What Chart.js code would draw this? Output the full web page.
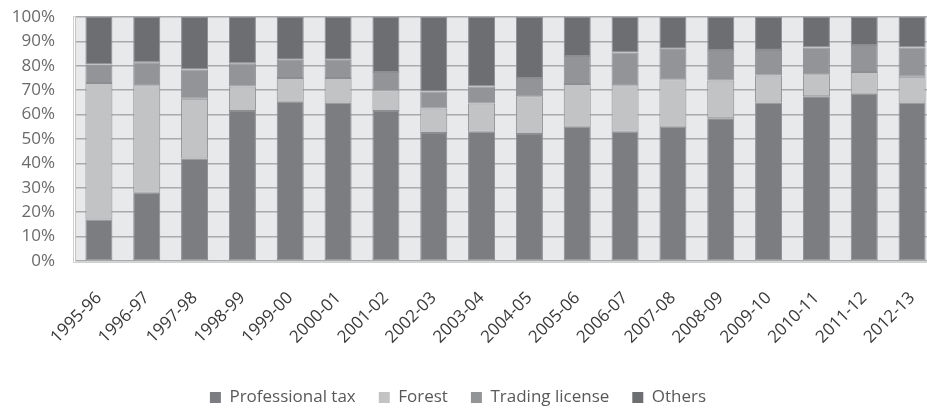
<!DOCTYPE html>
<html>
<head>
<meta charset="utf-8">
<style>
  html, body { margin: 0; padding: 0; background: #fff; overflow: hidden; }
  #wrap { width: 952px; height: 408px; }
</style>
<script src="https://cdn.jsdelivr.net/npm/chart.js@4.4.1/dist/chart.umd.min.js"></script>
</head>
<body>
<div id="wrap"><canvas id="chart" width="952" height="408"></canvas></div>
<script>
// Revenue shares by source, per year (percent of total)
var years = ['1995-96', '1996-97', '1997-98', '1998-99', '1999-00', '2000-01', '2001-02', '2002-03', '2003-04',
    '2004-05', '2005-06', '2006-07', '2007-08', '2008-09', '2009-10', '2010-11', '2011-12', '2012-13'];
var professionalTax = [17, 28, 42, 61.5, 65.3, 65, 61.5, 52.5, 53, 52, 55, 53, 55, 58.5, 65, 67.5, 68.5, 65];
var forest = [56, 44, 24.5, 10, 9.7, 10, 8.5, 10, 11.5, 15.5, 17.5, 19, 19.5, 15.5, 11, 9, 9, 10.5];
var tradingLicense = [7.5, 9.5, 12, 9.5, 7.5, 7.5, 7.5, 7, 7, 7.5, 11.5, 13.5, 12.5, 12.5, 10.5, 11, 11, 12];
var others = [19.5, 18.5, 21.5, 19, 17.5, 17.5, 22.5, 30.5, 28.5, 25, 16, 14.5, 13, 13.5, 13.5, 12.5, 11.5, 12.5];
var yTicks = [0, 10, 20, 30, 40, 50, 60, 70, 80, 90, 100];

var fontFamily = '"Open Sans", Lato, sans-serif';

// Plot area background (grey panel)
var plotBackground = {
    id: 'plotBackground',
    beforeDraw: function (chart) {
        var a = chart.chartArea;
        var ctx = chart.ctx;
        ctx.save();
        ctx.fillStyle = '#e8e9eb';
        ctx.fillRect(a.left, a.top, a.right - a.left, a.bottom - a.top);
        ctx.strokeStyle = '#cfd0d2';
        ctx.lineWidth = 1;
        ctx.strokeRect(a.left - 1.5, a.top - 0.5, a.right - a.left + 3, a.bottom - a.top + 2);
        ctx.restore();
    }
};

// Nudge the legend to where it sits in the original
var legendNudge = {
    id: 'legendNudge',
    afterLayout: function (chart) {
        var lg = chart.legend;
        if (!lg) return;
        var dy = 366 - lg.top;
        lg.top += dy; lg.bottom += dy;
        lg.left -= 10; lg.right -= 10;
    }
};

function makeSet(label, data, color) {
    return {
        label: label,
        data: data,
        backgroundColor: color,
        borderColor: '#8d8e91',
        borderWidth: 1,
        borderSkipped: false,
        barPercentage: 0.565,
        categoryPercentage: 1.0
    };
}

var datasets = [
    makeSet('Professional tax', professionalTax, '#7c7d81'),
    makeSet('Forest', forest, '#c2c3c5'),
    makeSet('Trading license', tradingLicense, '#939498'),
    makeSet('Others', others, '#6d6e72')
];

new Chart(document.getElementById('chart').getContext('2d'), {
    type: 'bar',
    data: { labels: years, datasets: datasets },
    plugins: [plotBackground, legendNudge],
    options: {
        responsive: false,
        animation: false,
        layout: { padding: { top: 17, right: 16, left: 0, bottom: 0 } },
        plugins: {
            legend: {
                position: 'bottom',
                labels: {
                    color: '#595959',
                    font: { family: fontFamily, size: 17 },
                    boxWidth: 11,
                    boxHeight: 11,
                    padding: 23,
                    generateLabels: function (chart) {
                        return chart.data.datasets.map(function (ds, i) {
                            return {
                                text: ds.label,
                                fillStyle: ds.backgroundColor,
                                strokeStyle: ds.backgroundColor,
                                lineWidth: 0,
                                datasetIndex: i,
                                fontColor: '#595959'
                            };
                        });
                    }
                }
            },
            tooltip: { enabled: false }
        },
        scales: {
            x: {
                stacked: true,
                grid: { display: false },
                border: { display: false },
                ticks: {
                    color: '#3a3a3a',
                    font: { family: fontFamily, size: 17 },
                    maxRotation: 45,
                    minRotation: 45,
                    padding: 19
                },
                afterFit: function (scale) { scale.height = 97; }
            },
            y: {
                stacked: true,
                min: 0,
                max: 100,
                afterBuildTicks: function (scale) {
                    scale.ticks = yTicks.map(function (v) { return { value: v }; });
                },
                grid: { color: '#a9aaac', lineWidth: 1.6, drawTicks: false },
                border: { display: true, color: '#c4c5c7', width: 1 },
                ticks: {
                    color: '#6a6a6a',
                    font: { family: fontFamily, size: 17 },
                    padding: 20,
                    callback: function (v) { return v + '%'; }
                },
                afterFit: function (scale) {
                    scale.width = 75;
                    scale.paddingTop = 0;
                    scale.paddingBottom = 0;
                }
            }
        }
    }
});
</script>
</body>
</html>
